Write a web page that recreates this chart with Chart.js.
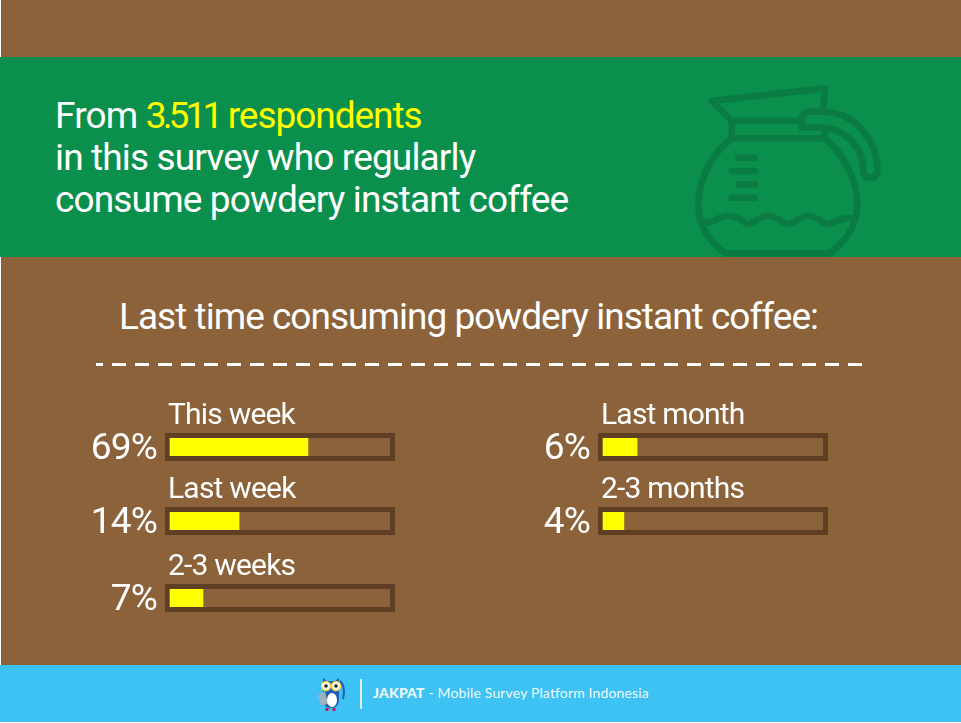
<!DOCTYPE html>
<html>
<head>
<meta charset="utf-8">
<title>Powdery instant coffee</title>
<script src="https://cdn.jsdelivr.net/npm/chart.js@4/dist/chart.umd.min.js"></script>
<style>
html,body{margin:0;padding:0;background:#fff;width:961px;height:723px;overflow:hidden}
body{position:relative;font-family:Roboto,sans-serif;color:#fff}
div,canvas,svg{position:absolute}
#bg{left:1px;top:0;width:960px;height:665px;background:#8b6239}
#head{left:0;top:57px;width:961px;height:200px;background:#0a904c}
.line{left:55px;font-size:37px;line-height:42px;letter-spacing:-.85px;white-space:nowrap}
.line b{font-weight:400;color:#ffff00;letter-spacing:-1.05px}
.line i{font-style:normal;letter-spacing:-3.8px}
#sub{left:119px;top:294px;font-size:37px;line-height:46px;letter-spacing:-.98px;white-space:nowrap}
#dash{left:96px;top:363px;width:766px;height:3px;background:linear-gradient(90deg,#fff 14px,transparent 14px) -7px 0/23px 100% repeat-x}
#foot{left:0;top:665px;width:961px;height:57px;background:#3ec1f3}
#sep{left:360px;top:679px;width:2px;height:30px;background:#d8f2fc}
#brand{left:373px;top:684px;font:14px/18px Lato,sans-serif;letter-spacing:.15px;color:#eefaff;white-space:nowrap}
#brand b{font-weight:900}
</style>
</head>
<body>
<div id="bg"></div>
<div id="head"></div>
<div class="line" style="top:95px">From <b><i>3.511</i> respondents</b></div>
<div class="line" style="top:137px">in this survey who regularly</div>
<div class="line" style="top:179px">consume powdery instant coffee</div>
<svg style="left:680px;top:75px" width="220" height="182" viewBox="0 0 660 546" fill="none" stroke="#0a7c43" stroke-width="20" stroke-linecap="round" stroke-linejoin="round">
  <path d="M95 78L435 40L430 95M95 78L155 138H365M155 138V190H435V165"/>
  <path d="M155 190C90 240 55 320 55 390C55 450 90 500 135 535H450C495 500 532 450 532 390C532 320 495 240 435 190"/>
  <path d="M365 158V135Q365 110 395 110H425C520 110 592 190 592 285Q592 308 570 308Q550 308 550 285C550 215 490 158 425 158Z"/>
  <path d="M60 437C95 455 110 423 145 423S195 447 205 447S240 423 265 423S310 447 325 447S360 423 385 423S430 447 445 447S480 423 525 430"/>
  <path d="M175 248H225M155 288H225M175 328H225M155 368H225"/>
</svg>
<div id="sub">Last time consuming powdery instant coffee:</div>
<div id="dash"></div>
<div id="foot"></div>
<svg style="left:316px;top:675px" width="32" height="38" viewBox="0 0 32 38">
  <path d="M24 6Q30 12 27 24" stroke="#1d5cb8" stroke-width="2" fill="none"/>
  <path d="M7 3L11 6H19L23 3V24Q23 33 15 33Q7 33 7 24Z" fill="#1d5cb8"/>
  <path d="M2 20L9 16L12 29L5 31Z" fill="#9fb0bd"/>
  <ellipse cx="16" cy="25" rx="5" ry="7" fill="#fff"/>
  <circle cx="10" cy="11" r="4.5" fill="#fff" stroke="#f5d33a" stroke-width="1.4"/>
  <circle cx="20" cy="11" r="4.5" fill="#fff" stroke="#f5d33a" stroke-width="1.4"/>
  <circle cx="10" cy="11" r="1.8" fill="#222"/>
  <circle cx="20" cy="11" r="1.8" fill="#222"/>
  <path d="M11 33v3M18 33v3" stroke="#c2185b" stroke-width="3"/>
</svg>
<div id="sep"></div>
<div id="brand"><b>JAKPAT</b> - Mobile Survey Platform Indonesia</div>
<script>
const categories = ['This week', 'Last week', '2-3 weeks', 'Last month', '2-3 months'];
const percentLabels = ['69%', '14%', '7%', '6%', '4%'];
// the picture's bars are not to scale with the printed percents, these are the drawn fill lengths
const fillLengths = [62.7, 31.4, 15, 15.5, 9.5];

// where each small bar chart sits on the page
const rowLeft = [85, 85, 85, 518, 518];
const rowTop = [395, 469, 546, 395, 469];

const FONT = 'Roboto, sans-serif';

const trackFrame = {
  id: 'trackFrame',
  beforeDraw(chart) {
    // tighter text, and the names start a bit left of the track
    chart.ctx.letterSpacing = '-0.8px';
    chart.scales.x.left -= 2;
  },
  beforeDatasetsDraw(chart) {
    const a = chart.chartArea, c = chart.ctx;
    c.save();
    c.strokeStyle = '#5f3f23';
    c.lineWidth = 5;
    c.strokeRect(a.left - 2.5, a.top - 2.5, a.width + 5, a.height + 5);
    c.restore();
  }
};

categories.forEach(function (name, i) {
  const cv = document.createElement('canvas');
  cv.style.left = rowLeft[i] + 'px';
  cv.style.top = rowTop[i] + 'px';
  cv.width = 310;
  cv.height = 81;
  document.body.appendChild(cv);

  new Chart(cv.getContext('2d'), {
    type: 'bar',
    plugins: [trackFrame],
    data: {
      labels: [percentLabels[i]],
      datasets: [{
        data: [fillLengths[i]],
        backgroundColor: '#ffff00',
        categoryPercentage: 1,
        barPercentage: 1
      }]
    },
    options: {
      indexAxis: 'y',
      responsive: false,
      animation: false,
      devicePixelRatio: 1,
      layout: { padding: { right: 5, bottom: 20 } },
      plugins: { legend: { display: false }, tooltip: { enabled: false } },
      scales: {
        x: {
          position: 'top',
          min: 0,
          max: 100,
          grid: { display: false },
          border: { display: false },
          ticks: { display: false },
          title: {
            display: true,
            text: name,
            align: 'start',
            color: '#fff',
            font: { family: FONT, size: 30 },
            padding: { top: 3, bottom: 0 }
          },
          afterFit(s) { s.height = 43; }
        },
        y: {
          grid: { display: false, drawTicks: false },
          border: { display: false },
          ticks: {
            color: '#fff',
            font: { family: FONT, size: 37 },
            padding: 13,
            labelOffset: 3
          },
          afterFit(s) { s.width = 85; s.paddingTop = 0; s.paddingBottom = 0; }
        }
      }
    }
  });
});
</script>
</body>
</html>
